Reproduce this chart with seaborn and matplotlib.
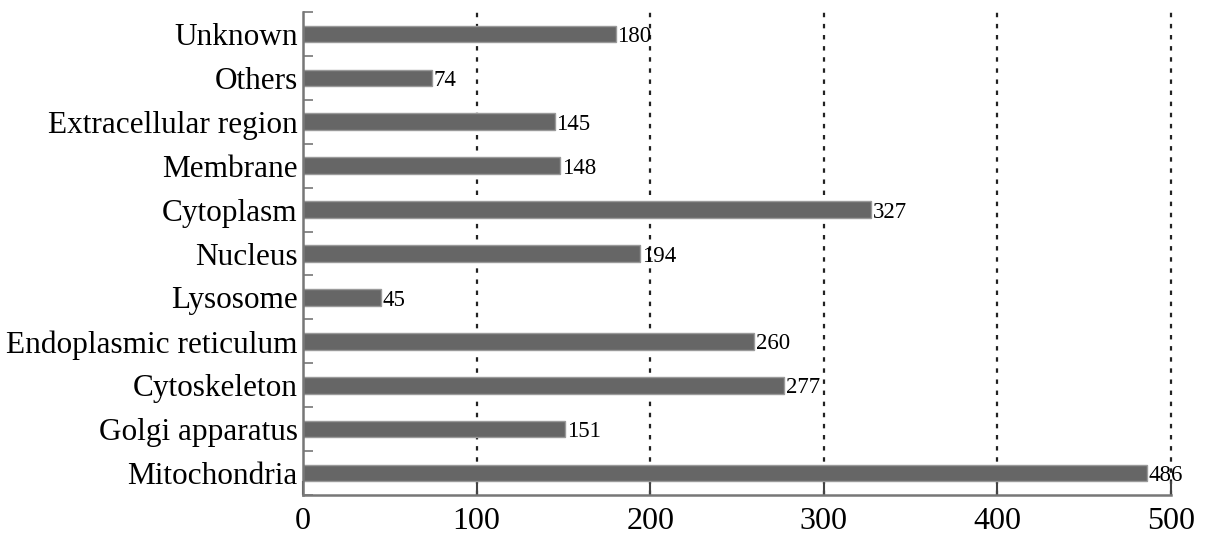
import matplotlib

matplotlib.use("Agg")
import matplotlib.pyplot as plt
import numpy as np
import pandas as pd
import seaborn as sns

categories = [
    "Unknown",
    "Others",
    "Extracellular region",
    "Membrane",
    "Cytoplasm",
    "Nucleus",
    "Lysosome",
    "Endoplasmic reticulum",
    "Cytoskeleton",
    "Golgi apparatus",
    "Mitochondria",
]
counts = [180, 74, 145, 148, 327, 194, 45, 260, 277, 151, 486]
x_ticks = [0, 100, 200, 300, 400, 500]

df = pd.DataFrame({"location": categories, "count": counts})

sns.set_theme(style="white")
plt.rcParams["font.family"] = ["Liberation Serif", "DejaVu Serif"]

fig = plt.figure(figsize=(12.05, 5.36), dpi=100)
ax = fig.add_axes([0.2515, 0.0765, 0.9718 - 0.2515, 0.9776 - 0.0765])

sns.barplot(
    data=df,
    y="location",
    x="count",
    order=categories,
    color="#666666",
    edgecolor="#9a9a9a",
    linewidth=1.0,
    width=0.38,
    saturation=1,
    ax=ax,
)

for i, v in enumerate(counts):
    ax.text(v + 1, i + 0.06, str(v), va="center", ha="left", fontsize=16.5, color="black")

ax.set_xlim(0, 500)
ax.set_ylim(len(categories) - 0.5, -0.5)
ax.set_xticks(x_ticks)
ax.set_xticklabels([str(t) for t in x_ticks])

# category labels at centers, tick marks at boundaries
ax.set_yticks(np.arange(len(categories)), minor=True)
ax.set_yticklabels(categories, minor=True)
ax.set_yticks(np.arange(-0.5, len(categories), 1.0))
ax.set_yticklabels([])
ax.tick_params(axis="y", which="minor", left=True, length=0, pad=4,
               labelsize=22.5, labelcolor="black")
ax.tick_params(axis="y", which="major", left=True, direction="in", length=7,
               width=1.2, color="#777777")
ax.tick_params(axis="x", bottom=True, direction="in", length=10, width=1.5,
               color="#444444", pad=9, labelsize=23, labelcolor="black")

for x in x_ticks[1:]:
    ax.axvline(x, color="#222222", linestyle=(0, (2, 3)), linewidth=1.6,
               zorder=0, clip_on=False)

ax.set_xlabel("")
ax.set_ylabel("")
for s in ["top", "right"]:
    ax.spines[s].set_visible(False)
for s in ["left", "bottom"]:
    ax.spines[s].set_color("#777777")
    ax.spines[s].set_linewidth(1.8)

fig.savefig("out.png", dpi=100)
